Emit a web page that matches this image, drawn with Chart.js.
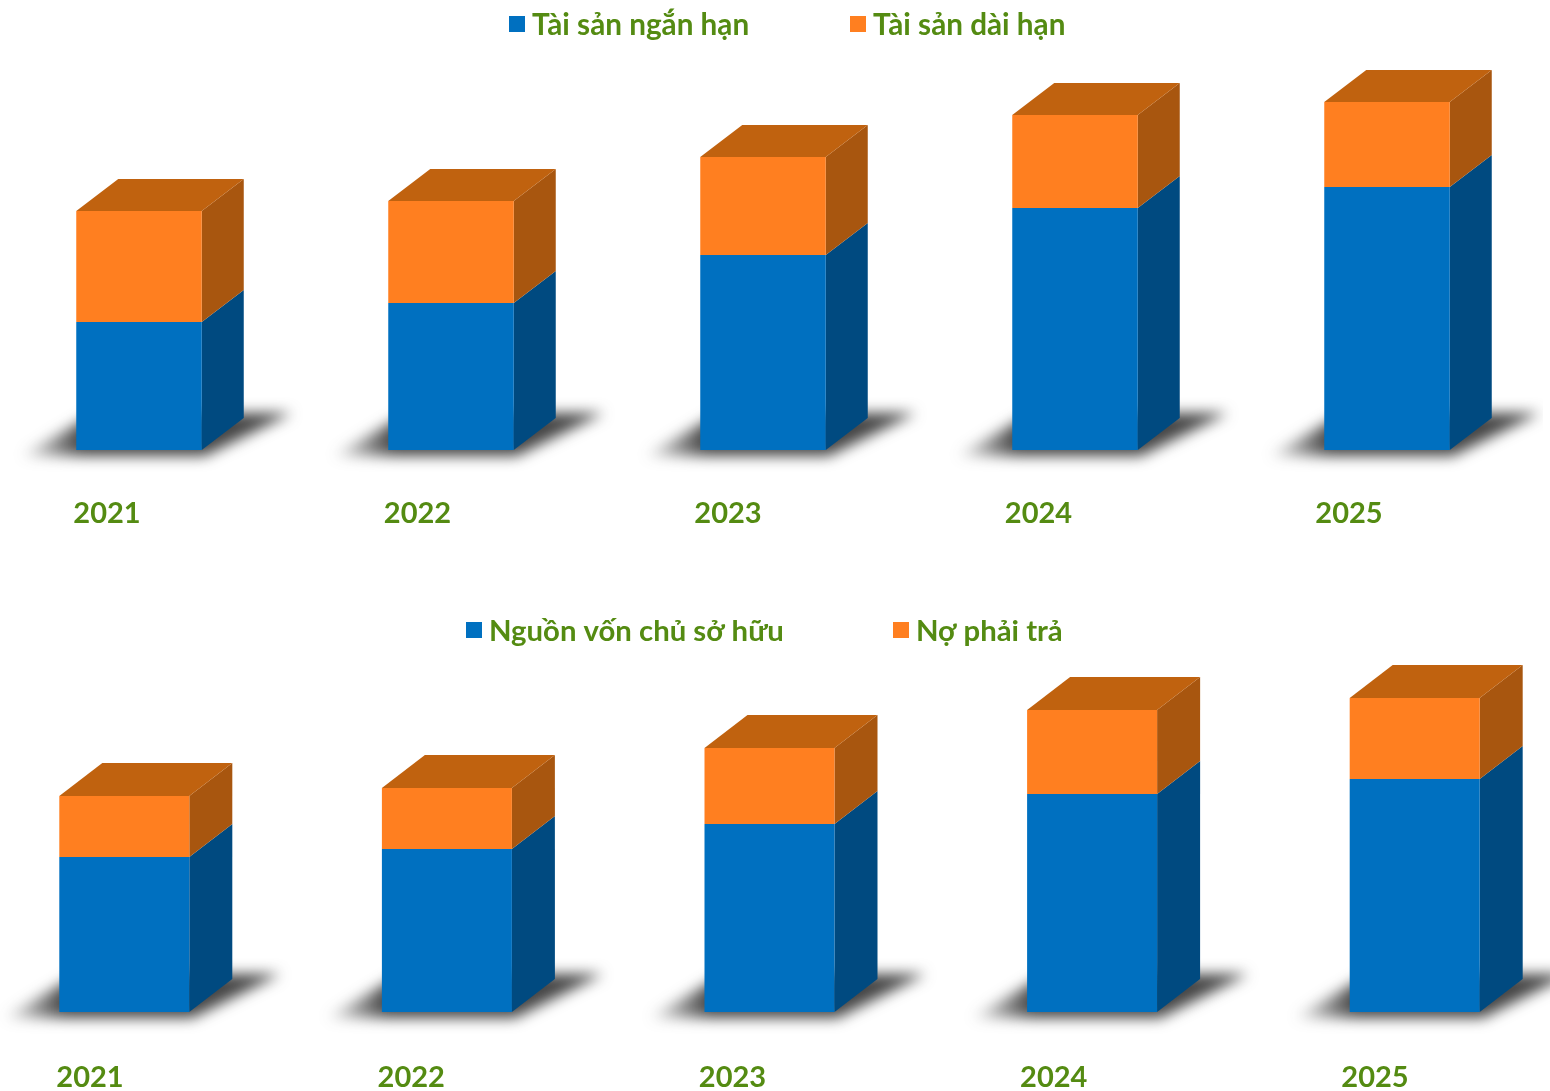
<!DOCTYPE html>
<html>
<head>
<meta charset="utf-8">
<script src="https://cdn.jsdelivr.net/npm/chart.js@4/dist/chart.umd.min.js"></script>
<style>
  html, body { margin: 0; width: 1550px; height: 1091px; background: #fff; overflow: hidden; }
  canvas { position: absolute; filter: blur(.5px); }
  #taiSan { left: -17px; top: 0; }
  #nguonVon { left: -37px; top: 600px; }
</style>
</head>
<body>
<canvas id="taiSan" width="1560" height="560"></canvas>
<canvas id="nguonVon" width="1613" height="491"></canvas>
<script>
var namBaoCao = ["2021", "2022", "2023", "2024", "2025"];

// no scale on the picture: values are relative heights
var taiSanNganHan = [128, 147, 195, 242, 263];
var taiSanDaiHan = [111, 102, 98, 93, 85];
var vonChuSoHuu = [155, 163, 188, 218, 233];
var noPhaiTra = [61, 61, 76, 84, 81];

var xanh = "#0070c0", xanhBen = "#004a80";
var cam = "#ff7f20", camBen = "#a8560f", camNap = "#c0620f";
var chuXanhLa = "#548b12";
var fontChu = "Lato";

// draws the shadow and the side and top faces behind the bars
var khoi3d = {
  id: "khoi3d",
  beforeDatasetsDraw: function (chart, args, opt) {
    var ctx = chart.ctx;
    var dayMeta = chart.getDatasetMeta(0).data;
    var dinhMeta = chart.getDatasetMeta(1).data;

    dayMeta.forEach(function (bar) {
      var trai = bar.x - bar.width / 2, phai = bar.x + bar.width / 2;
      var grad = ctx.createLinearGradient(trai - 60, 0, trai + 5, 0);
      grad.addColorStop(0, "rgba(50,50,50,0)");
      grad.addColorStop(1, "rgba(50,50,50,.9)");
      ctx.save();
      ctx.filter = "blur(7px)";
      ctx.fillStyle = grad;
      ctx.beginPath();
      ctx.moveTo(trai - 56, bar.base + 6);
      ctx.lineTo(phai + 3, bar.base + 6);
      ctx.lineTo(phai + opt.dx + 48, bar.base - opt.dy - 5);
      ctx.lineTo(trai + 20, bar.base - opt.dy - 5);
      ctx.closePath();
      ctx.fill();
      ctx.restore();
    });

    chart.data.datasets.forEach(function (ds, i) {
      chart.getDatasetMeta(i).data.forEach(function (bar) {
        var phai = bar.x + bar.width / 2;
        ctx.fillStyle = i == 0 ? xanhBen : camBen;
        ctx.beginPath();
        ctx.moveTo(phai, bar.base);
        ctx.lineTo(phai + opt.dx, bar.base - opt.dy);
        ctx.lineTo(phai + opt.dx, bar.y - opt.dy);
        ctx.lineTo(phai, bar.y);
        ctx.closePath();
        ctx.fill();
      });
    });

    dinhMeta.forEach(function (bar) {
      var trai = bar.x - bar.width / 2, phai = bar.x + bar.width / 2;
      ctx.fillStyle = camNap;
      ctx.beginPath();
      ctx.moveTo(trai, bar.y);
      ctx.lineTo(trai + opt.dx, bar.y - opt.dy);
      ctx.lineTo(phai + opt.dx, bar.y - opt.dy);
      ctx.lineTo(phai, bar.y);
      ctx.closePath();
      ctx.fill();
    });
  },
  // the legend in the picture sits at fixed places, so it is drawn by hand
  afterDraw: function (chart, args, opt) {
    var ctx = chart.ctx;
    ctx.save();
    ctx.font = "bold " + opt.coChuGiai + "px " + fontChu;
    ctx.textBaseline = "middle";
    chart.data.datasets.forEach(function (ds, i) {
      ctx.fillStyle = ds.backgroundColor;
      ctx.fillRect(opt.chuGiaiX[i], opt.chuGiaiY - 8, 16, 16);
      ctx.fillStyle = chuXanhLa;
      ctx.fillText(ds.label, opt.chuGiaiX[i] + 23, opt.chuGiaiY + 1.5);
    });
    ctx.restore();
  }
};

function veBieuDo(id, nhan1, so1, nhan2, so2, cfg) {
  // the year labels are spaced a little tighter than the bars, so they get their own axis
  var namDau = +namBaoCao[0];
  var rong = document.getElementById(id).width;
  var namMin = namDau - cfg.nhanDau / cfg.buocNhan;

  return new Chart(document.getElementById(id).getContext("2d"), {
    type: "bar",
    data: {
      labels: namBaoCao,
      datasets: [
        { label: nhan1, data: so1, backgroundColor: xanh },
        { label: nhan2, data: so2, backgroundColor: cam }
      ]
    },
    options: {
      responsive: false,
      animation: false,
      layout: { padding: { top: 60 } },
      barPercentage: cfg.doRong,
      categoryPercentage: 1,
      plugins: {
        legend: { display: false },
        tooltip: { enabled: false },
        khoi3d: cfg
      },
      scales: {
        x: { stacked: true, display: false },
        truNam: {
          type: "linear",
          position: "bottom",
          offset: false,
          min: namMin,
          max: namMin + rong / cfg.buocNhan,
          grid: { display: false },
          border: { display: false },
          afterBuildTicks: function (scale) {
            scale.ticks = namBaoCao.map(function (n) { return { value: +n }; });
          },
          ticks: {
            color: chuXanhLa,
            font: { family: fontChu, weight: "bold", size: cfg.coChu },
            padding: cfg.dem,
            autoSkip: false,
            maxRotation: 0,
            callback: function (v) { return String(v); }
          },
          afterFit: function (scale) { scale.height = cfg.caoTruc; }
        },
        y: { stacked: true, display: false, min: 0, max: cfg.tran }
      }
    },
    plugins: [khoi3d]
  });
}

veBieuDo("taiSan", "Tài sản ngắn hạn", taiSanNganHan, "Tài sản dài hạn", taiSanDaiHan, {
  dx: 42, dy: 32, doRong: 125.5 / 312, tran: 390, caoTruc: 110, dem: 38, nhanDau: 124, buocNhan: 310.5,
  coChu: 29, coChuGiai: 29.7, chuGiaiX: [526, 867], chuGiaiY: 24
});

veBieuDo("nguonVon", "Nguồn vốn chủ sở hữu", vonChuSoHuu, "Nợ phải trả", noPhaiTra, {
  dx: 43, dy: 33, doRong: 130 / 322.6, tran: 352, caoTruc: 79, dem: 40, nhanDau: 127, buocNhan: 321.25,
  coChu: 29, coChuGiai: 29.3, chuGiaiX: [503, 930], chuGiaiY: 30
});
</script>
</body>
</html>
